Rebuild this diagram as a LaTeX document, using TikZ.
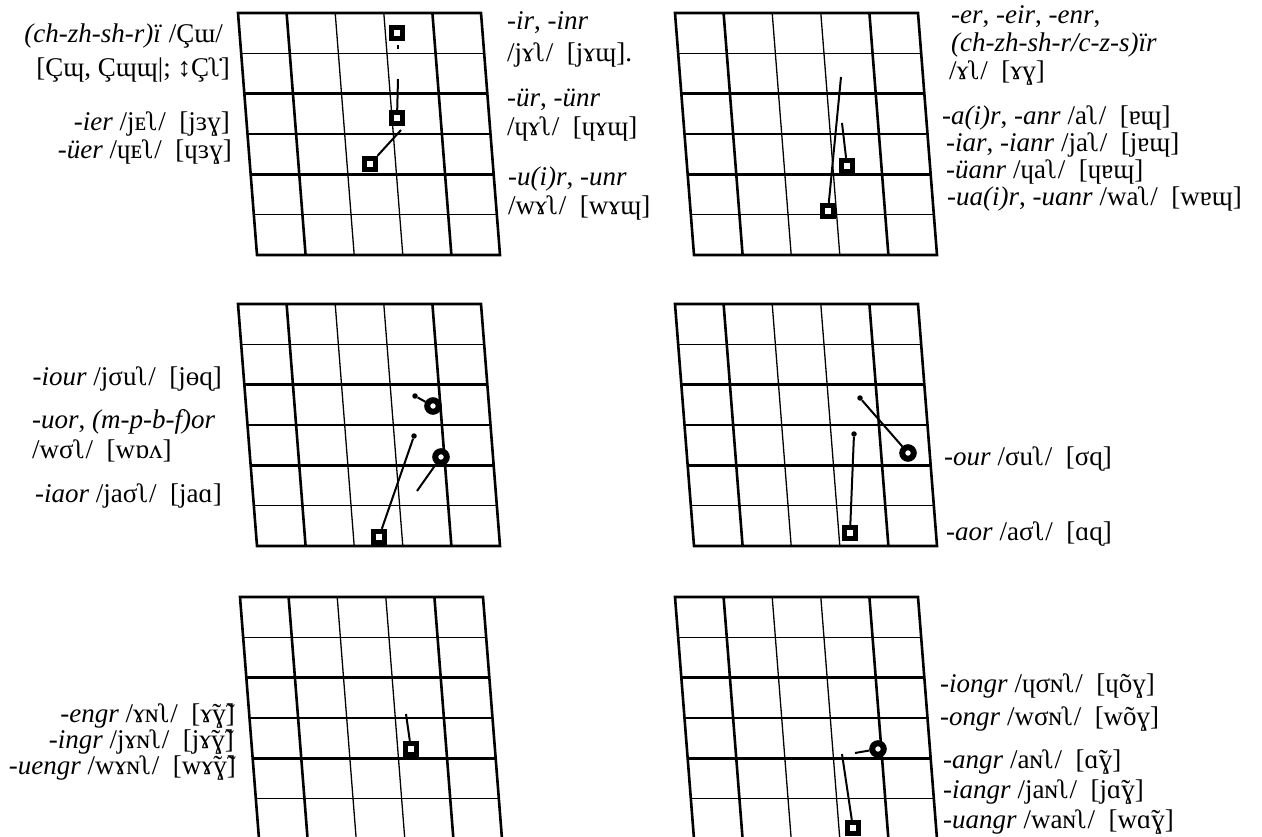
\documentclass[tikz,border=0pt]{standalone}
\usepackage{fontspec}
\setmainfont{Liberation Serif}
\usetikzlibrary{positioning}
\tikzstyle{heavy} = [line width=2.6pt, line join=miter]
\tikzstyle{light} = [line width=1.3pt]
\tikzstyle{sqmark} = [draw, rectangle, line width=5.4pt, fill=white, minimum size=11pt, inner sep=0pt]
\tikzstyle{ringmark} = [draw, circle, line width=6pt, fill=white, minimum size=11.5pt, inner sep=0pt]
\tikzstyle{dotmark} = [circle, fill, minimum size=5.5pt, inner sep=0pt]
\tikzstyle{glide} = [draw, line width=2pt]
\tikzstyle{lbl} = [inner sep=0pt, font=\fontsize{27}{32}\selectfont]
\tikzstyle{lblr} = [lbl, anchor=base east]
\tikzstyle{lbll} = [lbl, anchor=base west]

\begin{document}
\begin{tikzpicture}[x=1pt, y=-1pt]
    \useasboundingbox (0,0) rectangle (1262,837);
    % Grids
    \foreach \gx/\gy in {238/13, 675/13, 238/304, 675/304, 240/597, 675/597} {
        \foreach \i in {2,3}
            \draw [light] ({\gx+48.6*\i},\gy) -- ({\gx+48.6*\i+19},{\gy+242});
        \foreach \j in {1,3,5}
            \draw [light] ({\gx+19*\j/6},{\gy+40.33*\j}) -- ({\gx+243+19*\j/6},{\gy+40.33*\j});
        \foreach \i in {1,4}
            \draw [heavy] ({\gx+48.6*\i},\gy) -- ({\gx+48.6*\i+19},{\gy+242});
        \foreach \j in {2,4}
            \draw [heavy] ({\gx+19*\j/6},{\gy+40.33*\j}) -- ({\gx+243+19*\j/6},{\gy+40.33*\j});
        \draw [heavy] (\gx,\gy) -- ({\gx+243},\gy) -- ({\gx+262},{\gy+242}) -- ({\gx+19},{\gy+242}) -- cycle;
    }

    % Markers
    \node [sqmark] (ir) at (397,33) {};
    \node [sqmark] (yr) at (397,118) {};
    \node [sqmark] (wr) at (370,164) {};
    \coordinate (ir0) at (398,45);
    \coordinate (ir1) at (398,49);
    \coordinate (yr0) at (398,79);
    \coordinate (wr0) at (401,130);

    \node [sqmark] (ar) at (847,166) {};
    \node [sqmark] (er) at (828,211) {};
    \coordinate (er0) at (841,77);
    \coordinate (ar0) at (842,123);

    \node [dotmark] (iou0) at (415,396) {};
    \node [ringmark] (iou) at (433,406) {};
    \node [dotmark] (iao0) at (414,436) {};
    \node [sqmark] (iao) at (379,537) {};
    \node [ringmark] (uo) at (441,457) {};
    \coordinate (uo1) at (417,491);

    \node [dotmark] (ou0) at (860,398) {};
    \node [ringmark] (ou) at (908,453) {};
    \node [dotmark] (ao0) at (854,434) {};
    \node [sqmark] (ao) at (850,533) {};

    \coordinate (eng0) at (406,714);
    \node [sqmark] (eng) at (411,749) {};

    \node [ringmark] (ong) at (878,749) {};
    \coordinate (ong0) at (855,753);
    \coordinate (ang0) at (842,754);
    \node [sqmark] (ang) at (853,828) {};

    % Paths
    \path [glide] (ir0) -- (ir1);
    \path [glide] (yr0) -- (yr);
    \path [glide] (wr0) -- (wr);
    \path [glide] (er0) -- (er);
    \path [glide] (ar0) -- (ar);
    \path [glide] (iou0) -- (iou);
    \path [glide] (iao0) -- (iao);
    \path [glide] (uo) -- (uo1);
    \path [glide] (ou0) -- (ou);
    \path [glide] (ao0) -- (ao);
    \path [glide] (eng0) -- (eng);
    \path [glide] (ong0) -- (ong);
    \path [glide] (ang0) -- (ang);

    % Labels
    \node [lblr] (l1a) at (223,43) {\textit{(ch-zh-sh-r)ï} /Çɯ/};
    \node [lblr] (l1b) at (230,77) {[Çɰ, Çɰɰ|; ↕Çʅ̇]};
    \node [lblr] (l1c) at (230,131) {\textit{-ier} /jᴇʅ/\enspace[jɜɣ]};
    \node [lblr] (l1d) at (232,159) {\textit{-üer} /ɥᴇʅ/\enspace[ɥɜɣ]};

    \node [lbll] (r1a) at (507,30) {\textit{-ir}, \textit{-inr}};
    \node [lbll] (r1b) at (507,62) {/jɤʅ/\enspace[jɤɰ].};
    \node [lbll] (r1c) at (507,107) {\textit{-ür}, \textit{-ünr}};
    \node [lbll] (r1d) at (507,136) {/ɥɤʅ/\enspace[ɥɤɰ]};
    \node [lbll] (r1e) at (508,186) {\textit{-u(i)r}, \textit{-unr}};
    \node [lbll] (r1f) at (508,215) {/wɤʅ/\enspace[wɤɰ]};

    \node [lbll] (r2a) at (951,24) {\textit{-er}, \textit{-eir}, \textit{-enr},};
    \node [lbll] (r2b) at (951,52) {\textit{(ch-zh-sh-r/c-z-s)ïr}};
    \node [lbll] (r2c) at (949,80) {/ɤʅ/\enspace[ɤɣ]};
    \node [lbll] (r2d) at (942,125) {\textit{-a(i)r}, \textit{-anr} /aʅ/\enspace[ɐɰ]};
    \node [lbll] (r2e) at (946,152) {\textit{-iar}, \textit{-ianr} /jaʅ/\enspace[jɐɰ]};
    \node [lbll] (r2f) at (946,179) {\textit{-üanr} /ɥaʅ/\enspace[ɥɐɰ]};
    \node [lbll] (r2g) at (947,206) {\textit{-ua(i)r}, \textit{-uanr} /waʅ/\enspace[wɐɰ]};

    \node [lblr] (l3a) at (222,385) {\textit{-iour} /jσuʅ/\enspace[jɵɋ]};
    \node [lbll] (l3b) at (32,428) {\textit{-uor}, \textit{(m-p-b-f)or}};
    \node [lbll] (l3c) at (32,458) {/wσʅ/\enspace[wɒʌ]};
    \node [lblr] (l3d) at (222,502) {\textit{-iaor} /jaσʅ/\enspace[jaɑ]};

    \node [lbll] (r4a) at (944,465) {\textit{-our} /σuʅ/\enspace[σɋ]};
    \node [lbll] (r4b) at (946,540) {\textit{-aor} /aσʅ/\enspace[ɑɋ]};

    \node [lblr] (l5a) at (235,722) {\textit{-engr} /ɤɴʅ/\enspace[ɤ̃ɣ̃]};
    \node [lblr] (l5b) at (234,748) {\textit{-ingr} /jɤɴʅ/\enspace[jɤ̃ɣ̃]};
    \node [lblr] (l5c) at (236,774) {\textit{-uengr} /wɤɴʅ/\enspace[wɤ̃ɣ̃]};

    \node [lbll] (r6a) at (940,692) {\textit{-iongr} /ɥσɴʅ/\enspace[ɥõɣ]};
    \node [lbll] (r6b) at (940,725) {\textit{-ongr} /wσɴʅ/\enspace[wõɣ]};
    \node [lbll] (r6c) at (943,768) {\textit{-angr} /aɴʅ/\enspace[ɑ̃ɣ]};
    \node [lbll] (r6d) at (943,798) {\textit{-iangr} /jaɴʅ/\enspace[jɑ̃ɣ]};
    \node [lbll] (r6e) at (943,828) {\textit{-uangr} /waɴʅ/\enspace[wɑ̃ɣ]};
\end{tikzpicture}
\end{document}
